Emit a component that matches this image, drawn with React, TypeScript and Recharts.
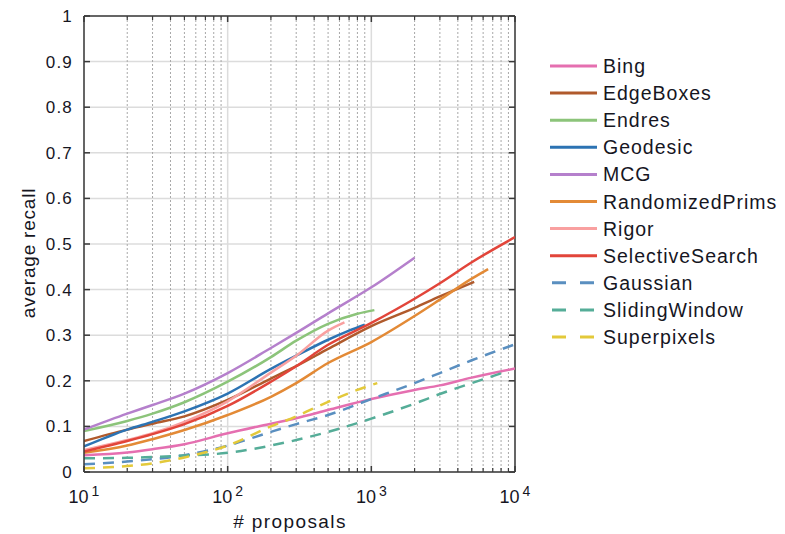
import React from 'react'
import { LineChart, Line, XAxis, YAxis, CartesianGrid, ReferenceLine, Legend, Label } from 'recharts'

// [# proposals, average recall]
const bing = [[10, 0.037], [20, 0.043], [30, 0.05], [50, 0.061], [100, 0.085], [200, 0.106], [300, 0.118], [500, 0.136], [1000, 0.16], [2000, 0.18], [3000, 0.19], [5000, 0.207], [10000, 0.227]]
const edgeBoxes = [[10, 0.068], [20, 0.093], [30, 0.106], [50, 0.122], [100, 0.158], [200, 0.205], [300, 0.232], [500, 0.27], [1000, 0.32], [2000, 0.36], [3000, 0.385], [5200, 0.417]]
const endres = [[10, 0.09], [20, 0.112], [30, 0.128], [50, 0.153], [100, 0.198], [200, 0.252], [300, 0.288], [500, 0.325], [800, 0.347], [1050, 0.355]]
const geodesic = [[10, 0.056], [20, 0.093], [30, 0.11], [50, 0.133], [100, 0.172], [200, 0.226], [300, 0.255], [500, 0.29], [700, 0.31], [900, 0.323]]
const mcg = [[10, 0.093], [20, 0.128], [30, 0.147], [50, 0.172], [100, 0.217], [200, 0.272], [300, 0.305], [500, 0.348], [1000, 0.405], [2000, 0.47]]
const randomizedPrims = [[10, 0.042], [20, 0.058], [30, 0.072], [50, 0.092], [100, 0.125], [200, 0.165], [300, 0.195], [500, 0.239], [1000, 0.285], [2000, 0.342], [3000, 0.378], [5000, 0.424], [6500, 0.445]]
const rigor = [[10, 0.048], [20, 0.07], [30, 0.085], [50, 0.11], [100, 0.155], [200, 0.218], [300, 0.255], [500, 0.31], [650, 0.328]]
const selectiveSearch = [[10, 0.045], [20, 0.068], [30, 0.083], [50, 0.105], [100, 0.145], [200, 0.198], [300, 0.232], [500, 0.279], [1000, 0.327], [2000, 0.38], [3000, 0.414], [5000, 0.46], [10000, 0.515]]
const gaussian = [[10, 0.017], [20, 0.023], [30, 0.028], [50, 0.037], [100, 0.058], [200, 0.088], [300, 0.105], [500, 0.125], [1000, 0.16], [2000, 0.195], [3000, 0.217], [5000, 0.245], [10000, 0.28]]
const slidingWindow = [[10, 0.03], [20, 0.031], [30, 0.033], [50, 0.036], [100, 0.042], [200, 0.058], [300, 0.07], [500, 0.088], [1000, 0.117], [2000, 0.15], [3000, 0.171], [5000, 0.195], [8700, 0.22]]
const superpixels = [[10, 0.008], [20, 0.013], [30, 0.019], [50, 0.032], [100, 0.058], [200, 0.1], [300, 0.122], [400, 0.14], [800, 0.18], [1100, 0.195]]

const seriesNames = ['Bing', 'EdgeBoxes', 'Endres', 'Geodesic', 'MCG', 'RandomizedPrims', 'Rigor', 'SelectiveSearch', 'Gaussian', 'SlidingWindow', 'Superpixels']
const seriesData = [bing, edgeBoxes, endres, geodesic, mcg, randomizedPrims, rigor, selectiveSearch, gaussian, slidingWindow, superpixels]
const seriesColors = ['#e56fb0', '#b05a2c', '#8cc47a', '#2c73b3', '#b580cc', '#e38a36', '#f9a0a0', '#e2453a', '#5a8fc0', '#55ad98', '#e3c93a']
const dashedSeries = ['Gaussian', 'SlidingWindow', 'Superpixels']

const xTicks = [10, 100, 1000, 10000]
const xTickExp = ['1', '2', '3', '4']
const xMinorTicks = [20, 30, 40, 50, 60, 70, 80, 90, 200, 300, 400, 500, 600, 700, 800, 900, 2000, 3000, 4000, 5000, 6000, 7000, 8000, 9000]
const yTicks = [0, 0.1, 0.2, 0.3, 0.4, 0.5, 0.6, 0.7, 0.8, 0.9, 1]

const FONT = '"Liberation Sans", Arial, Helvetica, sans-serif'
const TEXT = '#16161f'
const FRAME = '#3a3a3a'
// plot box in pixels
const PLOT_LEFT = 84
const PLOT_RIGHT = 515
const PLOT_TOP = 16
const PLOT_BOTTOM = 472

const toRows = (pts: number[][]) => pts.map(([n, v]) => ({ n, v }))

// major x tick: inward marks top and bottom + 10^k label
const XTick = ({ x, payload }: any) => {
  const i = xTicks.indexOf(payload.value)
  return (
    <g>
      <line x1={x} x2={x} y1={PLOT_BOTTOM} y2={PLOT_BOTTOM - 6} stroke={FRAME} strokeWidth={1.5} />
      <line x1={x} x2={x} y1={PLOT_TOP} y2={PLOT_TOP + 6} stroke={FRAME} strokeWidth={1.5} />
      <text x={x} y={503} textAnchor="middle" fontSize={18} fill={TEXT} fontFamily={FONT}>
        <tspan>10</tspan>
        <tspan dx={3} dy={-7} fontSize={14}>{xTickExp[i]}</tspan>
      </text>
    </g>
  )
}

// minor x tick marks, top and bottom
const MinorTick = ({ x }: any) => (
  <g>
    <line x1={x} x2={x} y1={PLOT_BOTTOM} y2={PLOT_BOTTOM - 4} stroke={FRAME} strokeWidth={1.2} />
    <line x1={x} x2={x} y1={PLOT_TOP} y2={PLOT_TOP + 4} stroke={FRAME} strokeWidth={1.2} />
  </g>
)

const YTick = ({ y, payload }: any) => {
  const v = payload.value
  const label = v === 0 ? '0' : v === 1 ? '1' : v.toFixed(1)
  return (
    <g>
      <line x1={PLOT_LEFT} x2={PLOT_LEFT + 6} y1={y} y2={y} stroke={FRAME} strokeWidth={1.5} />
      <line x1={PLOT_RIGHT - 6} x2={PLOT_RIGHT} y1={y} y2={y} stroke={FRAME} strokeWidth={1.5} />
      <text x={PLOT_LEFT - 11} y={y + 6} textAnchor="end" fontSize={17} letterSpacing={1.2} fill={TEXT} fontFamily={FONT}>
        {label}
      </text>
    </g>
  )
}

const renderLegend = () => (
  <svg width={237} height={300}>
    {seriesNames.map((name, i) => {
      const y = 14 + i * 27.1
      const dashed = dashedSeries.includes(name)
      return (
        <g key={name}>
          <line
            x1={dashed ? 4 : 2}
            x2={dashed ? 48 : 49}
            y1={y}
            y2={y}
            stroke={seriesColors[i]}
            strokeWidth={3}
            strokeDasharray={dashed ? '14 14' : undefined}
          />
          <text x={55} y={y + 7} fontSize={19.5} letterSpacing={1} fill={TEXT} fontFamily={FONT}>
            {name}
          </text>
        </g>
      )
    })}
  </svg>
)

export default function App() {
  return (
    <div style={{ position: 'absolute', left: 0, top: 0, background: '#fff' }}>
      <LineChart width={785} height={534} margin={{ top: 15, right: 270, left: 34, bottom: 6 }}>
        <CartesianGrid stroke="#dcdcdc" strokeWidth={1.5} />
        <CartesianGrid horizontal={false} verticalValues={xMinorTicks} stroke="#a8a8a8" strokeDasharray="2 2" />
        <XAxis
          xAxisId="minor"
          dataKey="n"
          type="number"
          scale="log"
          domain={[10, 10000]}
          allowDataOverflow
          orientation="top"
          ticks={xMinorTicks}
          interval={0}
          height={1}
          tick={<MinorTick />}
          tickLine={false}
          axisLine={{ stroke: FRAME, strokeWidth: 1.5 }}
        />
        <XAxis
          dataKey="n"
          type="number"
          scale="log"
          domain={[10, 10000]}
          allowDataOverflow
          ticks={xTicks}
          interval={0}
          height={56}
          tick={<XTick />}
          tickLine={false}
          axisLine={{ stroke: FRAME, strokeWidth: 1.5 }}
        >
          <Label
            content={() => (
              <text x={290} y={528} textAnchor="middle" fontSize={19} letterSpacing={1.4} fill={TEXT} fontFamily={FONT}>
                # proposals
              </text>
            )}
          />
        </XAxis>
        <YAxis
          type="number"
          domain={[0, 1]}
          ticks={yTicks}
          interval={0}
          width={50}
          tick={<YTick />}
          tickLine={false}
          axisLine={{ stroke: FRAME, strokeWidth: 1.5 }}
        >
          <Label
            content={() => (
              <text
                x={0}
                y={0}
                transform="translate(35,253) rotate(-90)"
                textAnchor="middle"
                fontSize={19}
                letterSpacing={0.8}
                fill={TEXT}
                fontFamily={FONT}
              >
                average recall
              </text>
            )}
          />
        </YAxis>
        <ReferenceLine x={10000} stroke={FRAME} strokeWidth={1.5} />
        {seriesNames.map((name, i) => (
          <Line
            key={name}
            name={name}
            data={toRows(seriesData[i])}
            dataKey="v"
            type="monotone"
            stroke={seriesColors[i]}
            strokeWidth={2.5}
            strokeDasharray={dashedSeries.includes(name) ? '11 8' : undefined}
            dot={false}
            activeDot={false}
            isAnimationActive={false}
          />
        ))}
        <Legend
          layout="horizontal"
          align="center"
          verticalAlign="middle"
          content={renderLegend}
          wrapperStyle={{ left: 548, top: 52, width: 237, height: 300 }}
        />
      </LineChart>
    </div>
  )
}
